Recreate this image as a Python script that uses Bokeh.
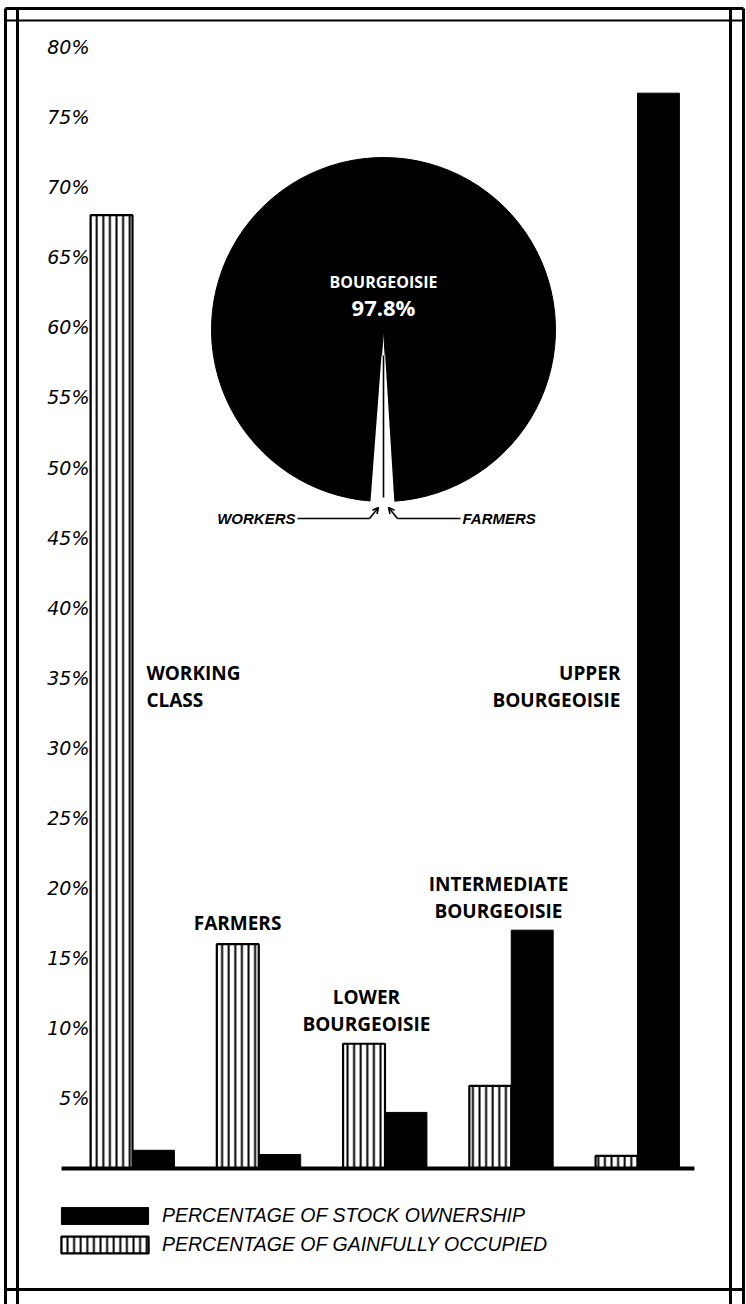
import numpy as np
from bokeh.plotting import figure
from bokeh.models import (Range1d, FixedTicker, ColumnDataSource, Legend, LegendItem,
                          Arrow, OpenHead)
from bokeh.transform import dodge
from bokeh.core.properties import value
from bokeh.embed import file_html
from bokeh.resources import INLINE

# ---------------- data ----------------
categories = ["Working Class", "Farmers", "Lower Bourgeoisie",
              "Intermediate Bourgeoisie", "Upper Bourgeoisie"]
category_labels = ["WORKING\nCLASS", "FARMERS", "LOWER\nBOURGEOISIE",
                   "INTERMEDIATE\nBOURGEOISIE", "UPPER\nBOURGEOISIE"]
gainfully_occupied = [68.0, 16.0, 8.9, 5.9, 0.9]   # % of gainfully occupied
stock_ownership = [1.3, 1.0, 4.0, 17.0, 76.7]      # % of stock ownership
y_ticks = [5, 10, 15, 20, 25, 30, 35, 40, 45, 50, 55, 60, 65, 70, 75, 80]
y_tick_labels = ["5%", "10%", "15%", "20%", "25%", "30%", "35%", "40%",
                 "45%", "50%", "55%", "60%", "65%", "70%", "75%", "80%"]
pie_labels = ["BOURGEOISIE", "WORKERS", "FARMERS"]
pie_values = [97.8, 1.2, 1.0]
legend_labels = ["PERCENTAGE OF STOCK OWNERSHIP", "PERCENTAGE OF GAINFULLY OCCUPIED"]

# ---------------- figure ----------------
W, H = 746, 1304
p = figure(width=W, height=H, output_backend="svg", toolbar_location=None,
           x_range=Range1d(-1.0455, 4.8634), y_range=Range1d(-9.70, 83.31),
           x_axis_location=None, y_axis_location="left",
           min_border_left=0, min_border_right=0, min_border_top=0, min_border_bottom=0)
p.xgrid.visible = False
p.ygrid.visible = False
p.outline_line_color = None
p.background_fill_color = "white"
p.border_fill_color = "white"

# page-like helper ranges for the frame, the inset pie and its notes
p.extra_x_ranges = {"px": Range1d(0, W)}
p.extra_y_ranges = {"py": Range1d(H, 0)}
PX = dict(x_range_name="px", y_range_name="py")

# y axis (labels pulled inside the frame)
ax = p.yaxis[0]
ax.ticker = FixedTicker(ticks=y_ticks)
ax.major_label_overrides = {t: lab for t, lab in zip(y_ticks, y_tick_labels)}
ax.axis_line_color = None
ax.major_tick_line_color = None
ax.minor_tick_line_color = None
ax.major_label_standoff = -95
ax.major_label_text_font = "DejaVu Sans"
ax.major_label_text_font_style = "italic"
ax.major_label_text_font_size = "19px"
ax.major_label_text_color = "black"

# bars
xs = np.arange(len(categories))
src = ColumnDataSource(dict(x=xs, gain=gainfully_occupied, stock=stock_ownership))
bw = 0.332
r_gain = p.vbar(x=dodge("x", -bw / 2), top="gain", bottom=0, width=bw, source=src,
                fill_color="white", line_color="black", line_width=2.2,
                hatch_pattern="vertical_line", hatch_scale=6.6, hatch_weight=2.0,
                hatch_color="black")
r_stock = p.vbar(x=dodge("x", bw / 2), top="stock", bottom=0, width=bw, source=src,
                 fill_color="black", line_color="black", line_width=1)

# baseline
p.segment(x0=[xs[0] - 0.562], y0=[0], x1=[xs[-1] + 0.451], y1=[0],
          line_color="black", line_width=4)

# category labels
lab_font = value("Open Sans")
placements = [  # (x offset from group, anchor y, y pixel offset, align)
    (0.11, 35, 9, "left"),
    (-0.168, None, -21, "center"),
    (-0.147, None, -33, "center"),
    (-0.101, None, -33, "center"),
    (-0.135, 35, 9, "right"),
]
for i, (dx, yv, yo, al) in enumerate(placements):
    yy = yv if yv is not None else max(gainfully_occupied[i], stock_ownership[i])
    p.text(x=[xs[i] + dx], y=[yy], text=[category_labels[i]], text_font=lab_font,
           text_font_style="bold", text_font_size="19px", text_align=al,
           text_baseline="middle", text_line_height=1.05, y_offset=yo, text_color="black")

# ---------------- inset pie ----------------
cx, cy, R, r_in = 383, 329, 172, 26
total = sum(pie_values)
frac = [v / total * 2 * np.pi for v in pie_values]
bottom_ang = -np.pi / 2
w_start, w_end = bottom_ang - frac[1], bottom_ang
f_start, f_end = bottom_ang, bottom_ang + frac[2]
p.wedge(x=[cx], y=[cy], radius=R, start_angle=f_end, end_angle=w_start + 2 * np.pi,
        fill_color="black", line_color="black", line_width=1, **PX)
p.annular_wedge(x=[cx, cx], y=[cy, cy], inner_radius=r_in, outer_radius=R + 2,
                start_angle=[w_start, f_start], end_angle=[w_end, f_end],
                fill_color="white", line_color=None, **PX)
p.segment(x0=[cx + r_in * np.cos(bottom_ang)], y0=[cy - r_in * np.sin(bottom_ang)],
          x1=[cx + (R - 4) * np.cos(bottom_ang)], y1=[cy - (R - 4) * np.sin(bottom_ang)],
          line_color="black", line_width=1.6, **PX)
p.text(x=[cx], y=[cy - 48], text=[pie_labels[0]], text_font=lab_font, text_font_style="bold",
       text_font_size="16px", text_color="white", text_align="center", text_baseline="middle",
       **PX)
p.text(x=[cx], y=[cy - 23], text=[f"{pie_values[0]}%"], text_font=lab_font,
       text_font_style="bold", text_font_size="22px", text_color="white",
       text_align="center", text_baseline="middle", **PX)

# pie notes
ly = cy + R + 17
p.text(x=[cx - 88], y=[ly], text=[pie_labels[1]], text_font=value("Liberation Sans"),
       text_font_style="bold italic", text_font_size="15px", text_align="right",
       text_baseline="middle", **PX)
p.text(x=[cx + 79], y=[ly], text=[pie_labels[2]], text_font=value("Liberation Sans"),
       text_font_style="bold italic", text_font_size="15px", text_align="left",
       text_baseline="middle", **PX)
p.segment(x0=[cx - 86, cx + 77], y0=[ly, ly], x1=[cx - 14, cx + 14], y1=[ly, ly],
          line_color="black", line_width=1.6, **PX)
for sx, ex in [(cx - 14, cx - 5), (cx + 14, cx + 5)]:
    p.add_layout(Arrow(x_start=sx, y_start=ly, x_end=ex, y_end=ly - 11,
                       line_width=1.6, end=OpenHead(size=6, line_width=1.6), **PX))

# ---------------- double frame ----------------
p.segment(x0=[5, 17, 730, 743], y0=[8] * 4, x1=[5, 17, 730, 743], y1=[H] * 4,
          line_color="black", line_width=3, **PX)
p.segment(x0=[5] * 3, y0=[8, 20, 1289], x1=[743] * 3, y1=[8, 20, 1289],
          line_color="black", line_width=[3, 2.2, 3], **PX)

# ---------------- legend ----------------
legend = Legend(items=[LegendItem(label=legend_labels[0], renderers=[r_stock]),
                       LegendItem(label=legend_labels[1], renderers=[r_gain])],
                location=(50, 48), orientation="vertical", glyph_width=109, glyph_height=21,
                label_standoff=3, spacing=6, padding=0, margin=0,
                border_line_color=None, background_fill_alpha=0,
                label_text_font="Liberation Sans", label_text_font_style="italic",
                label_text_font_size="19.5px", label_text_color="black")
p.add_layout(legend)

open("out.html", "w").write(file_html(p, INLINE))
